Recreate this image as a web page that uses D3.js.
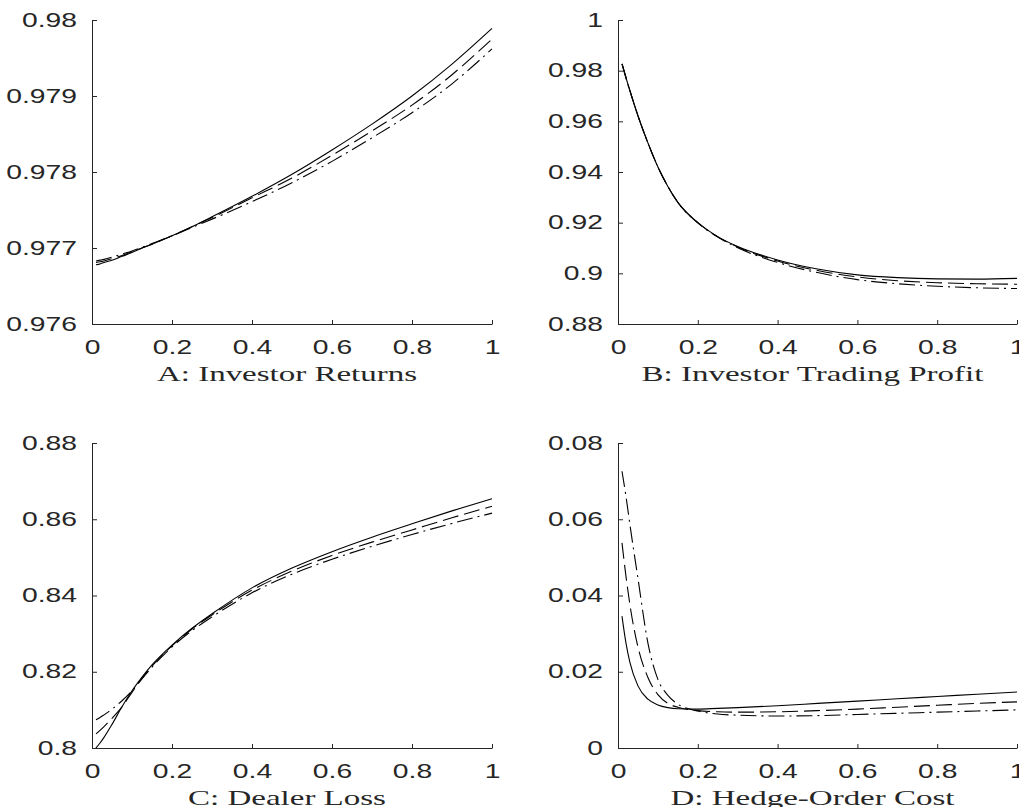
<!DOCTYPE html>
<html>
<head>
<meta charset="utf-8">
<script src="https://cdn.jsdelivr.net/npm/d3@7"></script>
<style>
  html, body { margin: 0; padding: 0; background: #fff; }
  svg { display: block; }
</style>
</head>
<body>
<svg id="chart" width="1019" height="807"></svg>
<script>
// ---------------- data ----------------
const xValues = [0.01, 0.02, 0.03, 0.05, 0.075, 0.1, 0.125, 0.15, 0.2, 0.25, 0.3, 0.4, 0.5, 0.6, 0.7, 0.8, 0.9, 1.0];

// A: Investor Returns
const returnsSolid   = [0.97678, 0.97679, 0.97681, 0.97684, 0.97689, 0.97694, 0.97700, 0.97705, 0.97716, 0.97728, 0.97741, 0.97768, 0.97797, 0.97829, 0.97863, 0.97900, 0.97942, 0.97989];
const returnsDashed  = [0.97681, 0.97682, 0.97683, 0.97686, 0.97690, 0.97695, 0.97700, 0.97705, 0.97716, 0.97728, 0.97740, 0.97766, 0.97792, 0.97822, 0.97854, 0.97888, 0.97928, 0.97975];
const returnsDashDot = [0.97683, 0.97684, 0.97685, 0.97688, 0.97692, 0.97696, 0.97701, 0.97706, 0.97716, 0.97727, 0.97738, 0.97761, 0.97786, 0.97814, 0.97845, 0.97878, 0.97916, 0.97962];

// B: Investor Trading Profit
const profitSolid   = [0.9827, 0.9772, 0.9720, 0.9622, 0.9515, 0.9420, 0.9343, 0.9280, 0.9200, 0.9145, 0.9106, 0.9053, 0.9017, 0.8994, 0.8983, 0.8978, 0.8977, 0.8980];
const profitDashed  = [0.9827, 0.9772, 0.9720, 0.9622, 0.9515, 0.9420, 0.9343, 0.9280, 0.9200, 0.9144, 0.9104, 0.9049, 0.9011, 0.8986, 0.8971, 0.8963, 0.8959, 0.8957];
const profitDashDot = [0.9827, 0.9772, 0.9720, 0.9622, 0.9515, 0.9420, 0.9343, 0.9280, 0.9199, 0.9143, 0.9101, 0.9043, 0.9003, 0.8975, 0.8959, 0.8949, 0.8943, 0.8940];

// C: Dealer Loss
const lossSolid   = [0.8000, 0.8013, 0.8028, 0.8062, 0.8108, 0.8150, 0.8186, 0.8218, 0.8270, 0.8314, 0.8352, 0.8420, 0.8472, 0.8515, 0.8553, 0.8588, 0.8622, 0.8654];
const lossDashed  = [0.8037, 0.8046, 0.8056, 0.8078, 0.8108, 0.8146, 0.8183, 0.8215, 0.8268, 0.8312, 0.8349, 0.8414, 0.8464, 0.8505, 0.8540, 0.8572, 0.8604, 0.8634];
const lossDashDot = [0.8074, 0.8080, 0.8087, 0.8102, 0.8124, 0.8150, 0.8181, 0.8212, 0.8265, 0.8308, 0.8344, 0.8407, 0.8456, 0.8495, 0.8529, 0.8560, 0.8589, 0.8616];

// D: Hedge-Order Cost
const costSolid   = [0.0346, 0.0275, 0.0224, 0.0163, 0.0128, 0.0113, 0.0106, 0.0103, 0.0102, 0.0104, 0.0106, 0.0111, 0.0117, 0.0123, 0.0129, 0.0135, 0.0141, 0.0147];
const costDashed  = [0.0538, 0.0450, 0.0375, 0.0265, 0.0185, 0.0140, 0.0117, 0.0107, 0.0098, 0.0095, 0.0094, 0.0095, 0.0098, 0.0102, 0.0107, 0.0112, 0.0117, 0.0121];
const costDashDot = [0.0726, 0.0660, 0.0585, 0.0445, 0.0275, 0.0180, 0.0138, 0.0115, 0.0097, 0.0089, 0.0086, 0.0084, 0.0085, 0.0088, 0.0091, 0.0094, 0.0097, 0.0100];

const xTicks = [0, 0.2, 0.4, 0.6, 0.8, 1];
const yTicksA = [0.976, 0.977, 0.978, 0.979, 0.98];
const yTicksB = [0.88, 0.9, 0.92, 0.94, 0.96, 0.98, 1];
const yTicksC = [0.8, 0.82, 0.84, 0.86, 0.88];
const yTicksD = [0, 0.02, 0.04, 0.06, 0.08];

const panelTitles = ["A: Investor Returns", "B: Investor Trading Profit", "C: Dealer Loss", "D: Hedge-Order Cost"];

// ---------------- layout ----------------
const svg = d3.select("#chart");
const STRETCH = 1.45;
const tickColor = "#262626";

const panels = [
  { left: 92,  top: 20,  bottom: 324, width: 400, ticks: yTicksA, series: [returnsSolid, returnsDashed, returnsDashDot], title: panelTitles[0] },
  { left: 618, top: 20,  bottom: 324, width: 399, ticks: yTicksB, series: [profitSolid, profitDashed, profitDashDot], title: panelTitles[1] },
  { left: 92,  top: 443, bottom: 748, width: 400, ticks: yTicksC, series: [lossSolid, lossDashed, lossDashDot], title: panelTitles[2] },
  { left: 618, top: 443, bottom: 748, width: 399, ticks: yTicksD, series: [costSolid, costDashed, costDashDot], title: panelTitles[3] }
];

const dashes = [null, "16,6", "16,5,2,5"];
const fmt = v => String(+v.toFixed(4));

panels.forEach(p => {
  const x = d3.scaleLinear().domain([0, 1]).range([p.left, p.left + p.width]);
  const y = d3.scaleLinear().domain(d3.extent(p.ticks)).range([p.bottom, p.top]);

  const line = d3.line()
    .x((d, i) => x(xValues[i]))
    .y(d => y(d))
    .curve(d3.curveMonotoneX);

  p.series.forEach((s, k) => {
    svg.append("path")
      .datum(s)
      .attr("d", line)
      .attr("fill", "none")
      .attr("stroke", "#000")
      .attr("stroke-width", 1.1)
      .attr("stroke-dasharray", dashes[k]);
  });

  const gx = svg.append("g")
    .attr("transform", `translate(0,${p.bottom})`)
    .call(d3.axisBottom(x).tickValues(xTicks).tickFormat(fmt).tickSizeInner(-4).tickSizeOuter(0));
  const gy = svg.append("g")
    .attr("transform", `translate(${p.left},0)`)
    .call(d3.axisLeft(y).tickValues(p.ticks).tickFormat(fmt).tickSizeInner(-5).tickSizeOuter(0));

  [gx, gy].forEach(g => {
    g.select(".domain").attr("stroke", tickColor);
    g.selectAll(".tick line").attr("stroke", tickColor);
    g.selectAll("text")
      .attr("fill", tickColor)
      .attr("font-family", "'Liberation Sans', Arial, sans-serif")
      .attr("font-size", 19.5)
      .attr("transform", `scale(${STRETCH},1)`);
  });
  gx.selectAll("text").attr("y", 16);
  gy.selectAll("text").attr("x", -15 / STRETCH);

  svg.append("text")
    .attr("transform", `translate(${p.left + p.width / 2 - 5},${p.bottom + 57}) scale(1.5,1)`)
    .attr("text-anchor", "middle")
    .attr("font-family", "'Liberation Serif', 'Times New Roman', serif")
    .attr("font-size", 22)
    .attr("fill", tickColor)
    .text(p.title);
});
</script>
</body>
</html>
